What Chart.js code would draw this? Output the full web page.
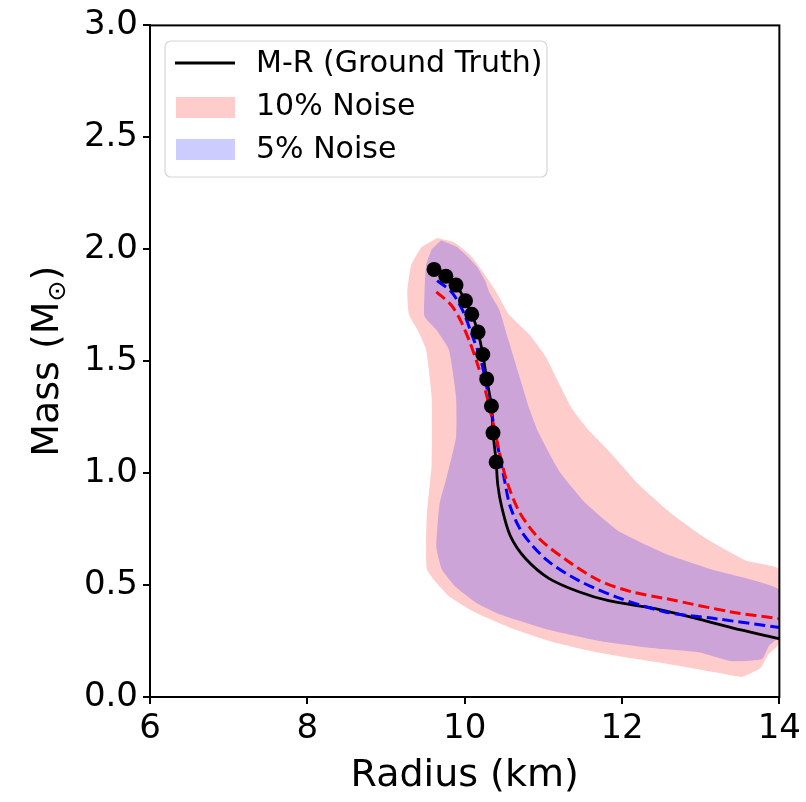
<!DOCTYPE html>
<html>
<head>
<meta charset="utf-8">
<script src="https://cdn.jsdelivr.net/npm/chart.js@4.4.1/dist/chart.umd.min.js"></script>
<style>
  html, body { margin: 0; padding: 0; background: #fff; }
</style>
</head>
<body>
<canvas id="mrChart" width="806" height="802"></canvas>
<script>
// sampled ground truth points
const dotRadius = [9.61, 9.76, 9.89, 10.01, 10.09, 10.17, 10.23, 10.28, 10.34, 10.36, 10.40];
const dotMass   = [1.91, 1.88, 1.84, 1.77, 1.71, 1.63, 1.53, 1.42, 1.30, 1.18, 1.05];

// M-R ground truth curve
const truthRadius = [9.61, 9.76, 9.89, 10.01, 10.09, 10.17, 10.23, 10.28, 10.34, 10.36, 10.40,
                     10.42, 10.47, 10.58, 10.77, 11.07, 11.45, 11.83, 12.34, 12.84, 13.39, 14.0];
const truthMass   = [1.91, 1.88, 1.84, 1.77, 1.71, 1.63, 1.53, 1.42, 1.30, 1.18, 1.05,
                     0.95, 0.85, 0.72, 0.62, 0.53, 0.47, 0.43, 0.40, 0.36, 0.31, 0.26];

// 5% noise mean (blue dashed)
const mean5Radius = [9.65, 9.83, 9.97, 10.09, 10.21, 10.31, 10.42, 10.50, 10.58, 10.74, 11.05, 11.45, 11.94, 12.55, 13.19, 14.0];
const mean5Mass   = [1.86, 1.81, 1.73, 1.62, 1.50, 1.33, 1.12, 0.98, 0.85, 0.73, 0.61, 0.52, 0.445, 0.38, 0.35, 0.31];

// 10% noise mean (red dashed)
const mean10Radius = [9.64, 9.83, 9.95, 10.06, 10.16, 10.27, 10.37, 10.45, 10.53, 10.69, 10.94, 11.30, 11.71, 12.12, 12.55, 13.39, 14.0];
const mean10Mass   = [1.81, 1.75, 1.68, 1.59, 1.49, 1.36, 1.21, 1.08, 0.97, 0.83, 0.71, 0.61, 0.52, 0.47, 0.44, 0.38, 0.35];

// 10% noise band outline (closed)
const band10Radius = [9.65, 9.87, 10.08, 10.25, 10.40, 10.56, 10.82, 11.03, 11.20, 11.36, 11.58, 11.83, 12.21, 12.59, 13.06, 13.57, 14.0,
                      14.0, 13.86, 13.76, 13.52, 13.19, 12.55, 12.00, 11.54, 11.07, 10.65, 10.18, 10.02, 9.80, 9.64, 9.52,
                      9.51, 9.52, 9.58, 9.58, 9.51, 9.40, 9.29, 9.27, 9.32, 9.45];
const band10Mass   = [2.05, 2.03, 1.97, 1.89, 1.81, 1.71, 1.62, 1.52, 1.40, 1.29, 1.19, 1.10, 0.95, 0.83, 0.71, 0.61, 0.57,
                      0.24, 0.19, 0.13, 0.09, 0.11, 0.15, 0.18, 0.21, 0.25, 0.30, 0.37, 0.40, 0.45, 0.51, 0.57,
                      0.69, 0.82, 1.04, 1.34, 1.55, 1.64, 1.71, 1.81, 1.93, 2.01];

// 5% noise band outline (closed)
const band5Radius = [9.70, 9.90, 10.03, 10.16, 10.26, 10.31, 10.44, 10.56, 10.69, 10.82, 10.94, 11.20, 11.54, 11.96, 12.55, 13.14, 14.0,
                     14.0, 13.87, 13.78, 13.39, 12.97, 12.34, 11.71, 11.07, 10.44, 10.15, 9.89, 9.71, 9.64,
                     9.68, 9.77, 9.89, 9.89, 9.80, 9.64, 9.49, 9.49, 9.51, 9.58];
const band5Mass   = [2.04, 2.01, 1.97, 1.92, 1.86, 1.81, 1.73, 1.59, 1.44, 1.29, 1.18, 1.01, 0.865, 0.74, 0.64, 0.57, 0.48,
                     0.27, 0.23, 0.17, 0.16, 0.20, 0.22, 0.25, 0.30, 0.37, 0.42, 0.49, 0.57, 0.67,
                     0.86, 0.98, 1.16, 1.34, 1.55, 1.64, 1.70, 1.81, 1.93, 2.00];

const xTicks = [6, 8, 10, 12, 14];
const yTicks = [0.0, 0.5, 1.0, 1.5, 2.0, 2.5, 3.0];

const FONT = "'DejaVu Sans', sans-serif";

function toPoints(xs, ys) {
  return xs.map((x, i) => ({ x: x, y: ys[i] }));
}

// frame, axis titles and legend
const decorPlugin = {
  id: 'decor',
  afterDraw(chart) {
    const ctx = chart.ctx;
    const a = chart.chartArea;
    ctx.save();
    ctx.strokeStyle = '#000';
    ctx.lineWidth = 2;
    ctx.strokeRect(a.left, a.top, a.right - a.left, a.bottom - a.top);

    // x title
    ctx.fillStyle = '#000';
    ctx.font = '38px ' + FONT;
    ctx.textAlign = 'center';
    ctx.textBaseline = 'alphabetic';
    ctx.fillText('Radius (km)', (a.left + a.right) / 2, 786);

    // y title with subscript sun
    ctx.save();
    ctx.translate(58, (a.top + a.bottom) / 2);
    ctx.rotate(-Math.PI / 2);
    const main = 'Mass (M';
    ctx.font = '38px ' + FONT;
    const w1 = ctx.measureText(main).width;
    ctx.font = '25px ' + FONT;
    const w2 = ctx.measureText('\u2299').width;
    ctx.font = '38px ' + FONT;
    const w3 = ctx.measureText(')').width;
    let x0 = -(w1 + w2 + w3) / 2;
    ctx.textAlign = 'left';
    ctx.fillText(main, x0, 0);
    ctx.font = '25px ' + FONT;
    ctx.fillText('\u2299', x0 + w1, 7);
    ctx.font = '38px ' + FONT;
    ctx.fillText(')', x0 + w1 + w2, 0);
    ctx.restore();

    // legend box
    const bx = 165, by = 41, bw = 382, bh = 136, r = 6;
    ctx.beginPath();
    ctx.moveTo(bx + r, by);
    ctx.arcTo(bx + bw, by, bx + bw, by + bh, r);
    ctx.arcTo(bx + bw, by + bh, bx, by + bh, r);
    ctx.arcTo(bx, by + bh, bx, by, r);
    ctx.arcTo(bx, by, bx + bw, by, r);
    ctx.closePath();
    ctx.fillStyle = 'rgba(255,255,255,0.8)';
    ctx.fill();
    ctx.strokeStyle = '#d6d6d6';
    ctx.lineWidth = 1.2;
    ctx.stroke();

    ctx.strokeStyle = '#000';
    ctx.lineWidth = 3;
    ctx.beginPath();
    ctx.moveTo(175, 63);
    ctx.lineTo(235, 63);
    ctx.stroke();
    ctx.fillStyle = 'rgba(255,0,0,0.2)';
    ctx.fillRect(176, 97, 59, 21);
    ctx.fillStyle = 'rgba(0,0,255,0.2)';
    ctx.fillRect(176, 139, 59, 21);

    ctx.fillStyle = '#000';
    ctx.font = '30px ' + FONT;
    ctx.textAlign = 'left';
    ctx.textBaseline = 'middle';
    ctx.fillText('M-R (Ground Truth)', 256, 64);
    ctx.fillText('10% Noise', 256, 107);
    ctx.fillText('5% Noise', 256, 150);
    ctx.restore();
  }
};

const ctx = document.getElementById('mrChart').getContext('2d');
new Chart(ctx, {
  type: 'line',
  data: {
    datasets: [
      {
        label: 'dots',
        data: toPoints(dotRadius, dotMass),
        showLine: false,
        pointRadius: 7.5,
        pointBackgroundColor: '#000',
        pointBorderWidth: 0
      },
      {
        label: '10% mean',
        data: toPoints(mean10Radius, mean10Mass),
        borderColor: '#ff0000',
        borderWidth: 3,
        borderDash: [11, 5],
        pointRadius: 0,
        tension: 0.3,
        fill: false
      },
      {
        label: '5% mean',
        data: toPoints(mean5Radius, mean5Mass),
        borderColor: '#0000ff',
        borderWidth: 3,
        borderDash: [11, 5],
        pointRadius: 0,
        tension: 0.3,
        fill: false
      },
      {
        label: 'M-R (Ground Truth)',
        data: toPoints(truthRadius, truthMass),
        borderColor: '#000',
        borderWidth: 2.8,
        pointRadius: 0,
        tension: 0.3,
        fill: false
      },
      {
        label: '5% Noise',
        data: toPoints(band5Radius, band5Mass),
        borderWidth: 0,
        borderColor: 'rgba(0,0,0,0)',
        backgroundColor: 'rgba(0,0,255,0.2)',
        pointRadius: 0,
        tension: 0.15,
        fill: 'shape'
      },
      {
        label: '10% Noise',
        data: toPoints(band10Radius, band10Mass),
        borderWidth: 0,
        borderColor: 'rgba(0,0,0,0)',
        backgroundColor: 'rgba(255,0,0,0.2)',
        pointRadius: 0,
        tension: 0.15,
        fill: 'shape'
      }
    ]
  },
  options: {
    responsive: false,
    animation: false,
    events: [],
    layout: { padding: { top: 24, right: 25, left: 0, bottom: 0 } },
    plugins: {
      legend: { display: false },
      tooltip: { enabled: false }
    },
    scales: {
      x: {
        type: 'linear',
        min: 6,
        max: 14,
        afterFit(scale) { scale.height = 105; },
        afterBuildTicks(scale) { scale.ticks = xTicks.map(v => ({ value: v })); },
        ticks: {
          color: '#000',
          font: { family: FONT, size: 34 },
          padding: 5,
          maxRotation: 0,
          callback: v => String(v)
        },
        grid: { drawOnChartArea: false, drawTicks: true, tickLength: 7, color: '#000', lineWidth: 2 },
        border: { display: true, color: '#000', width: 2 }
      },
      y: {
        type: 'linear',
        min: 0,
        max: 3,
        afterFit(scale) { scale.width = 150; },
        afterBuildTicks(scale) { scale.ticks = yTicks.map(v => ({ value: v })); },
        ticks: {
          color: '#000',
          font: { family: FONT, size: 34 },
          padding: 5,
          callback: v => Number(v).toFixed(1)
        },
        grid: { drawOnChartArea: false, drawTicks: true, tickLength: 7, color: '#000', lineWidth: 2 },
        border: { display: true, color: '#000', width: 2 }
      }
    }
  },
  plugins: [decorPlugin]
});
</script>
</body>
</html>
